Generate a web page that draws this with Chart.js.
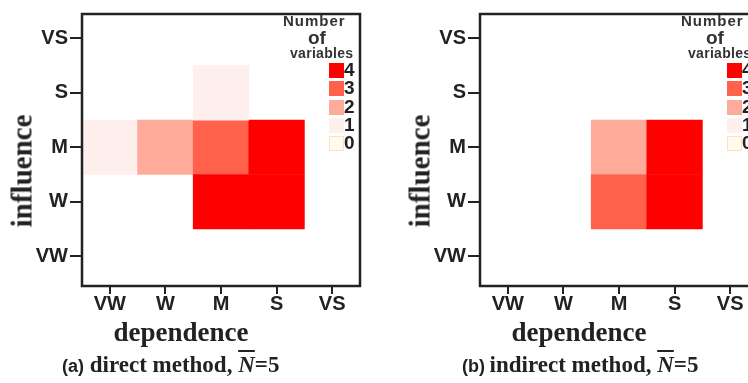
<!DOCTYPE html>
<html>
<head>
<meta charset="utf-8">
<script src="https://cdn.jsdelivr.net/npm/chart.js@4.4.1/dist/chart.umd.min.js"></script>
<style>
  html, body { margin: 0; padding: 0; background: #fff; width: 748px; height: 383px; overflow: hidden; position: relative; }
  .panel { position: absolute; top: 0; width: 400px; height: 383px; }
  .panel canvas { position: absolute; left: 0; top: 0; }
  .ytitle { position: absolute; left: 22px; top: 171px; transform: translate(-50%, -50%) rotate(-90deg); font: bold 29px 'Liberation Serif', 'Times New Roman', serif; color: #222; white-space: nowrap; }
  .xtitle { position: absolute; left: 181px; top: 332px; transform: translate(-50%, -50%); font: bold 27px 'Liberation Serif', 'Times New Roman', serif; color: #222; white-space: nowrap; }
  .caption { position: absolute; left: 62px; top: 352px; font: bold 23px 'Liberation Serif', 'Times New Roman', serif; color: #222; white-space: nowrap; }
  .caption .tag { font: bold 18px 'Liberation Sans', Arial, sans-serif; }
  .caption .nbar { font-style: italic; text-decoration: overline; }
  .lg { position: absolute; font-family: 'Liberation Sans', Arial, sans-serif; font-weight: bold; color: #333; white-space: nowrap; }
  .sw { position: absolute; width: 15px; height: 15px; box-sizing: border-box; }
</style>
</head>
<body>
<div class="panel" id="pa" style="left:0">
  <canvas id="chartA" width="400" height="320"></canvas>
  <div class="ytitle">influence</div>
  <div class="xtitle">dependence</div>
  <div class="caption"><span class="tag">(a)</span> direct method, <span class="nbar">N</span>=5</div>
</div>
<div class="panel" id="pb" style="left:398px">
  <canvas id="chartB" width="400" height="320"></canvas>
  <div class="ytitle">influence</div>
  <div class="xtitle">dependence</div>
  <div class="caption" style="left:64px"><span class="tag">(b)</span>&thinsp;indirect method, <span class="nbar">N</span>=5</div>
</div>
<script>
// levels on both axes
const levels = ['VW', 'W', 'M', 'S', 'VS']

// (a) direct method
const directDep = ['VW', 'W', 'M', 'S', 'M', 'M', 'S']
const directInf = ['M', 'M', 'M', 'M', 'S', 'W', 'W']
const directCount = [1, 2, 3, 4, 1, 4, 4]

// (b) indirect method
const indirectDep = ['M', 'S', 'M', 'S']
const indirectInf = ['M', 'M', 'W', 'W']
const indirectCount = [2, 4, 3, 4]

const legendValues = [4, 3, 2, 1, 0]

const countColors = ['#fffbf0', '#fff0ed', '#ffab9c', '#ff614b', '#ff0000']

const framePlugin = {
    id: 'frame',
    afterDatasetsDraw(chart) {
        const { ctx, chartArea: a } = chart
        ctx.save()
        ctx.strokeStyle = '#222'
        ctx.lineWidth = 2.5
        ctx.strokeRect(a.left, a.top, a.right - a.left, a.bottom - a.top)
        ctx.restore()
    }
}

const tickFont = { family: "'Liberation Sans', Arial, sans-serif", size: 20, weight: 'bold' }

function makeChart(id, dep, inf, count) {
    const data = dep.map((d, i) => {
        const v = levels.indexOf(inf[i])
        return { x: d, y: [v - 0.5, v + 0.5] }
    })
    return new Chart(document.getElementById(id), {
        type: 'bar',
        data: {
            labels: levels,
            datasets: [{
                data: data,
                backgroundColor: count.map(c => countColors[c]),
                borderWidth: 0,
                barPercentage: 1,
                categoryPercentage: 1,
                grouped: false
            }]
        },
        options: {
            responsive: false,
            animation: false,
            layout: { padding: { top: 11, right: 40, left: 0, bottom: 0 } },
            plugins: { legend: { display: false }, tooltip: { enabled: false } },
            scales: {
                x: {
                    type: 'category',
                    offset: true,
                    border: { display: false },
                    grid: { offset: false, drawOnChartArea: false, tickLength: 8, color: '#222', lineWidth: 2 },
                    ticks: { color: '#222', font: tickFont, padding: -2, maxRotation: 0 },
                    afterFit: s => { s.height = 34 }
                },
                y: {
                    type: 'linear',
                    min: -0.55,
                    max: 4.45,
                    border: { display: false },
                    grid: { drawOnChartArea: false, tickLength: 12, color: '#222', lineWidth: 2 },
                    ticks: { color: '#222', font: tickFont, padding: 2, callback: v => levels[v] },
                    afterBuildTicks: s => { s.ticks = levels.map((_, i) => ({ value: i })) },
                    afterFit: s => { s.width = 82 }
                }
            }
        },
        plugins: [framePlugin]
    })
}

function makeLegend(panelId) {
    const panel = document.getElementById(panelId)
    const add = (html, css) => {
        const el = document.createElement('div')
        el.className = 'lg'
        el.innerHTML = html
        Object.assign(el.style, css)
        panel.appendChild(el)
        return el
    }
    add('Number', { left: '283px', top: '12px', fontSize: '15px', letterSpacing: '1px' })
    add('of', { left: '308px', top: '27px', fontSize: '19px' })
    add('variables', { left: '290px', top: '45px', fontSize: '14px', letterSpacing: '0.3px' })
    legendValues.forEach((v, i) => {
        const top = 63 + i * 18.3
        const sw = document.createElement('div')
        sw.className = 'sw'
        sw.style.left = '329px'
        sw.style.top = top + 'px'
        sw.style.background = countColors[v]
        if (v === 0) sw.style.border = '1px solid #ffe2b5'
        panel.appendChild(sw)
        add(String(v), { left: '344px', top: (top - 4) + 'px', fontSize: '19px', color: '#222' })
    })
}

makeChart('chartA', directDep, directInf, directCount)
makeChart('chartB', indirectDep, indirectInf, indirectCount)
makeLegend('pa')
makeLegend('pb')
</script>
</body>
</html>
